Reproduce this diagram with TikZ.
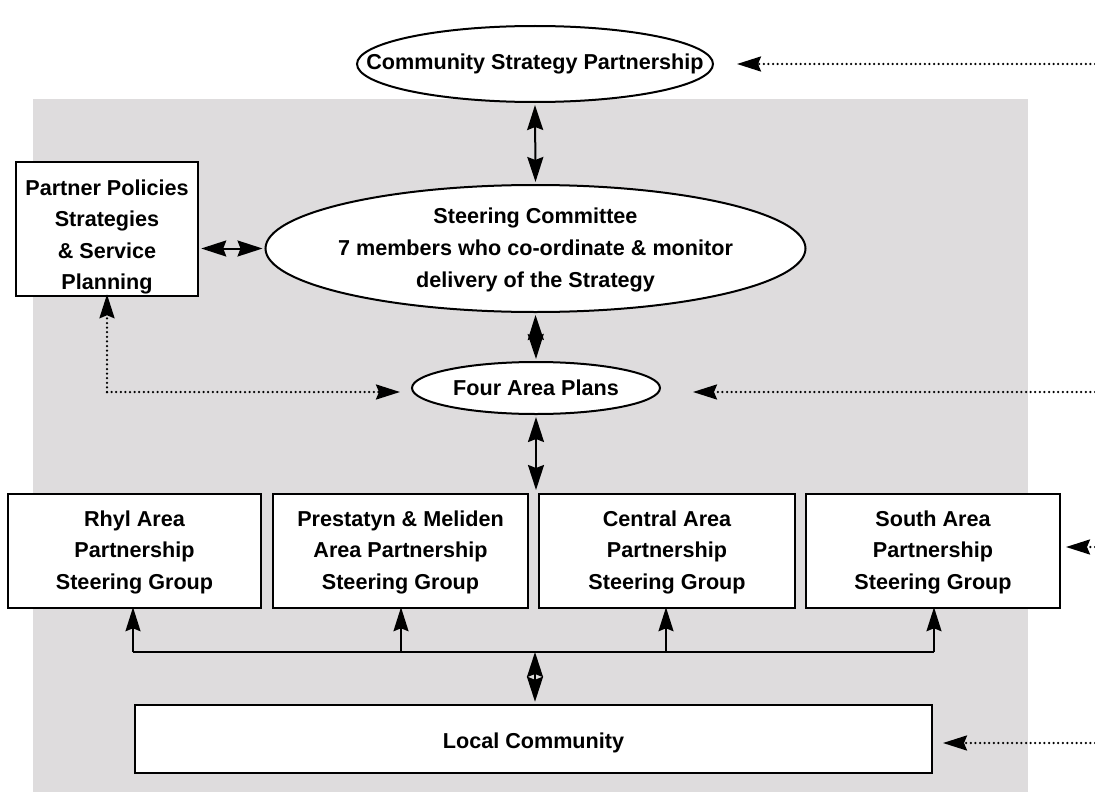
\documentclass[tikz,border=0pt]{standalone}
\usepackage{fontspec}
\setmainfont{Liberation Sans}
\usetikzlibrary{arrows.meta,shapes.geometric}
\definecolor{panelgrey}{HTML}{DEDCDD}
\tikzset{
  txt/.style={font=\fontsize{21.6}{31.5}\selectfont\bfseries, align=center, inner sep=0pt},
  oval/.style={ellipse, draw=black, line width=2pt, fill=white, inner sep=0pt},
  rbox/.style={rectangle, draw=black, line width=2.5pt, fill=white, inner sep=0pt},
  dbl/.style={{Stealth[length=25pt,width=16pt,inset=3pt]}-{Stealth[length=25pt,width=16pt,inset=3pt]}, line width=2pt},
  one/.style={-{Stealth[length=24pt,width=15pt,inset=3pt]}, line width=2pt},
  dots/.style={-{Stealth[length=24pt,width=15pt,inset=3pt]}, line width=2.5pt, dash pattern=on 0pt off 4.6pt, line cap=round}
}
\begin{document}
\begin{tikzpicture}[x=1pt,y=-1pt]
\useasboundingbox (0,0) rectangle (1095,792);
\fill[panelgrey] (33,99) rectangle (1028,792);

\node[oval, minimum width=356pt, minimum height=76pt] (csp) at (535,64) {};
\node[txt] (csp-t) at (csp.center) {Community Strategy Partnership};
\node[oval, minimum width=540pt, minimum height=127pt] (sc) at (535.5,248.5) {};
\node[txt, font=\fontsize{21.6}{32}\selectfont\bfseries] (sc-t) at ([yshift=-1pt]sc.center) {Steering Committee\\7 members who co-ordinate \& monitor\\delivery of the Strategy};
\node[oval, minimum width=248pt, minimum height=52pt] (fap) at (536,388) {};
\node[txt] (fap-t) at (fap.center) {Four Area Plans};
\node[rbox, minimum width=182pt, minimum height=134pt] (pp) at (107,229) {};
\node[txt] (pp-t) at ([yshift=-8pt]pp.center) {Partner Policies\\Strategies\\\& Service\\Planning};

\node[rbox, minimum width=253pt, minimum height=114pt] (b1) at (134.5,551) {};
\node[txt] at ([yshift=-1pt]b1.center) {Rhyl Area\\Partnership\\Steering Group};
\node[rbox, minimum width=255pt, minimum height=114pt] (b2) at (400.5,551) {};
\node[txt] at ([yshift=-1pt]b2.center) {Prestatyn \& Meliden\\Area Partnership\\Steering Group};
\node[rbox, minimum width=256pt, minimum height=114pt] (b3) at (667,551) {};
\node[txt] at ([yshift=-1pt]b3.center) {Central Area\\Partnership\\Steering Group};
\node[rbox, minimum width=254pt, minimum height=114pt] (b4) at (933,551) {};
\node[txt] at ([yshift=-1pt]b4.center) {South Area\\Partnership\\Steering Group};
\node[rbox, minimum width=797pt, minimum height=68pt] (lc) at (533.5,739) {};
\node[txt] at ([yshift=-4pt]lc.center) {Local Community};

% vertical double arrows
\draw[dbl] ([yshift=-2pt]csp.south) -- ([yshift=2pt]sc.north);
\draw[dbl] ([yshift=-2pt]sc.south) -- ([yshift=2pt]fap.north);
\draw[dbl] ([yshift=-2pt]fap.south) -- (536,490);
\draw[dbl] (pp.east |- sc.west) ++(2pt,0) -- ([xshift=-2pt]sc.west);

% bus
\coordinate (bus) at (535,652);
\coordinate (bl) at (133,652);
\coordinate (br) at (934,652);
\draw[line width=2pt] (bl) -- (br);
\draw[one] (bl) -- ([yshift=2pt]b1.south -| bl);
\draw[one] (401,652) -- ([yshift=2pt]b2.south -| 401,0);
\draw[one] (666,652) -- ([yshift=2pt]b3.south -| 666,0);
\draw[one] (br) -- ([yshift=2pt]b4.south -| br);
\draw[dbl] (bus) -- ([yshift=2pt]lc.north -| bus);

% dotted links
\coordinate (corner) at (107,392);
\draw[dots] (corner) -- ([yshift=3pt]pp.south);
\draw[dots] (corner) -- (400,392);
\coordinate (e1) at (1095,64);
\coordinate (e2) at (1095,392);
\coordinate (e3) at (1095,547);
\coordinate (e4) at (1095,743);
\draw[dots] (e1) -- (737,64);
\draw[dots] (e2) -- (693,392);
\draw[dots] (e3) -- (1066,547);
\draw[dots] (e4) -- (943,743);
\end{tikzpicture}
\end{document}
